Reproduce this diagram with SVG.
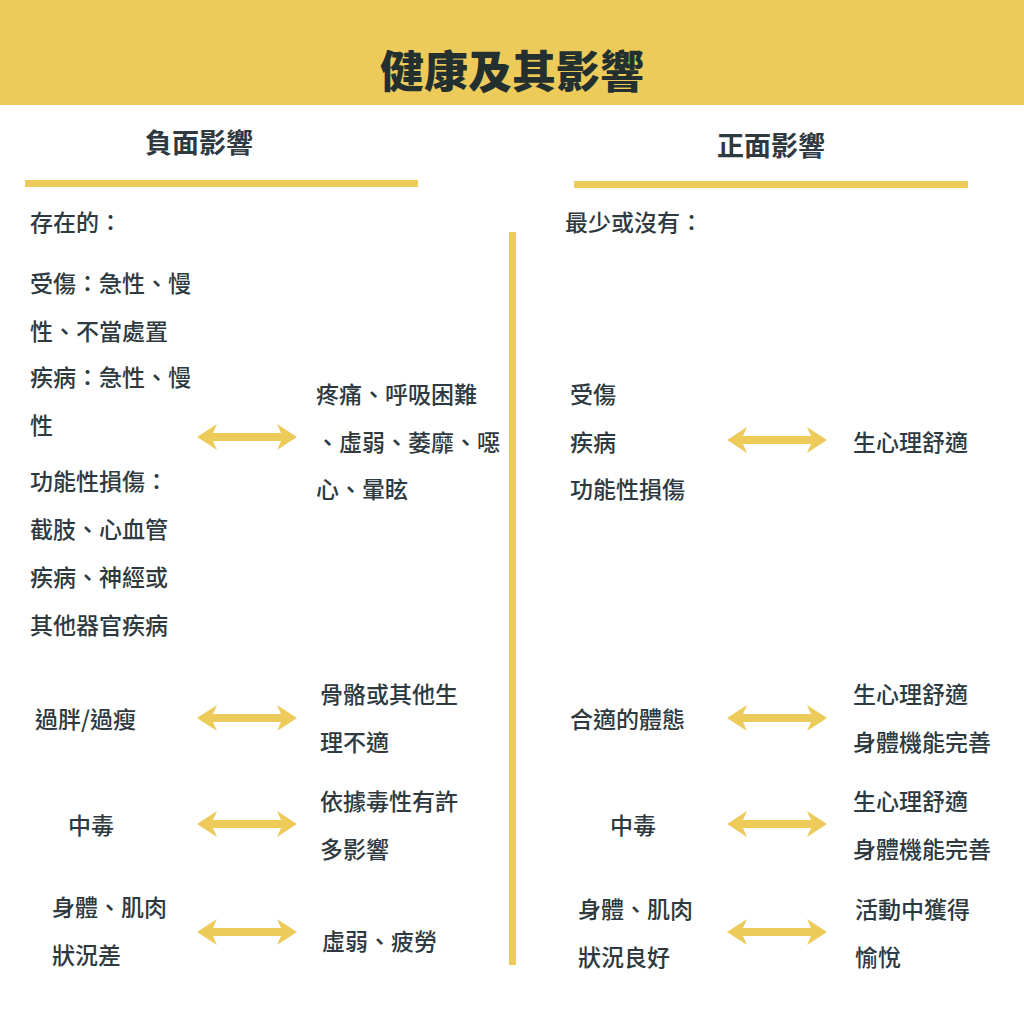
<svg xmlns="http://www.w3.org/2000/svg" width="1024" height="1024" viewBox="0 0 1024 1024">
<style>
text{font-family:"Noto Sans CJK TC","Noto Sans CJK SC",sans-serif;fill:#2e3a3f;font-size:23px;font-weight:500}
.h{font-size:27px;font-weight:700;text-anchor:middle}
.t{font-size:44px;font-weight:900;text-anchor:middle;fill:#23302f}
.y{fill:#edcb5a}
</style>
<defs>
<g id="arr"><path d="M0 0 L20 -13 L16 -4 L84 -4 L80 -13 L100 0 L80 13 L84 4 L16 4 L20 13 Z" fill="#edcb5a"/></g>
</defs>
<rect x="0" y="0" width="1024" height="105" class="y"/>
<text x="512" y="88" class="t">健康及其影響</text>
<g id="headers">
<text x="199" y="153" class="h">負面影響</text>
<text x="771" y="156" class="h">正面影響</text>
<rect x="25" y="180" width="393" height="7" class="y"/>
<rect x="574" y="181" width="394" height="7" class="y"/>
<rect x="509" y="232" width="7" height="733" class="y"/>
</g>
<g id="left">
<text x="30" y="231">存在的：</text>
<text x="30" y="292">受傷：急性、慢</text>
<text x="30" y="340">性、不當處置</text>
<text x="30" y="386">疾病：急性、慢</text>
<text x="30" y="434">性</text>
<text x="30" y="490">功能性損傷：</text>
<text x="30" y="538">截肢、心血管</text>
<text x="30" y="586">疾病、神經或</text>
<text x="30" y="634">其他器官疾病</text>
<text x="316" y="403">疼痛、呼吸困難</text>
<text x="316" y="451">、虛弱、萎靡、噁</text>
<text x="316" y="498">心、暈眩</text>
<text x="35" y="728">過胖/過瘦</text>
<text x="320" y="703">骨骼或其他生</text>
<text x="320" y="751">理不適</text>
<text x="68" y="834">中毒</text>
<text x="320" y="810">依據毒性有許</text>
<text x="320" y="858">多影響</text>
<text x="52" y="916">身體、肌肉</text>
<text x="52" y="964">狀況差</text>
<text x="322" y="950">虛弱、疲勞</text>
</g>
<g id="right">
<text x="565" y="231">最少或沒有：</text>
<text x="570" y="403">受傷</text>
<text x="570" y="451">疾病</text>
<text x="570" y="498">功能性損傷</text>
<text x="853" y="451">生心理舒適</text>
<text x="570" y="728">合適的體態</text>
<text x="853" y="703">生心理舒適</text>
<text x="853" y="751">身體機能完善</text>
<text x="610" y="834">中毒</text>
<text x="853" y="810">生心理舒適</text>
<text x="853" y="858">身體機能完善</text>
<text x="578" y="918">身體、肌肉</text>
<text x="578" y="966">狀況良好</text>
<text x="855" y="918">活動中獲得</text>
<text x="855" y="966">愉悅</text>
</g>
<g id="connectors">
<use href="#arr" x="197" y="437"/>
<use href="#arr" x="197" y="718"/>
<use href="#arr" x="197" y="824"/>
<use href="#arr" x="197" y="932"/>
<use href="#arr" x="727" y="440"/>
<use href="#arr" x="727" y="718"/>
<use href="#arr" x="727" y="824"/>
<use href="#arr" x="727" y="932"/>
</g>
</svg>
